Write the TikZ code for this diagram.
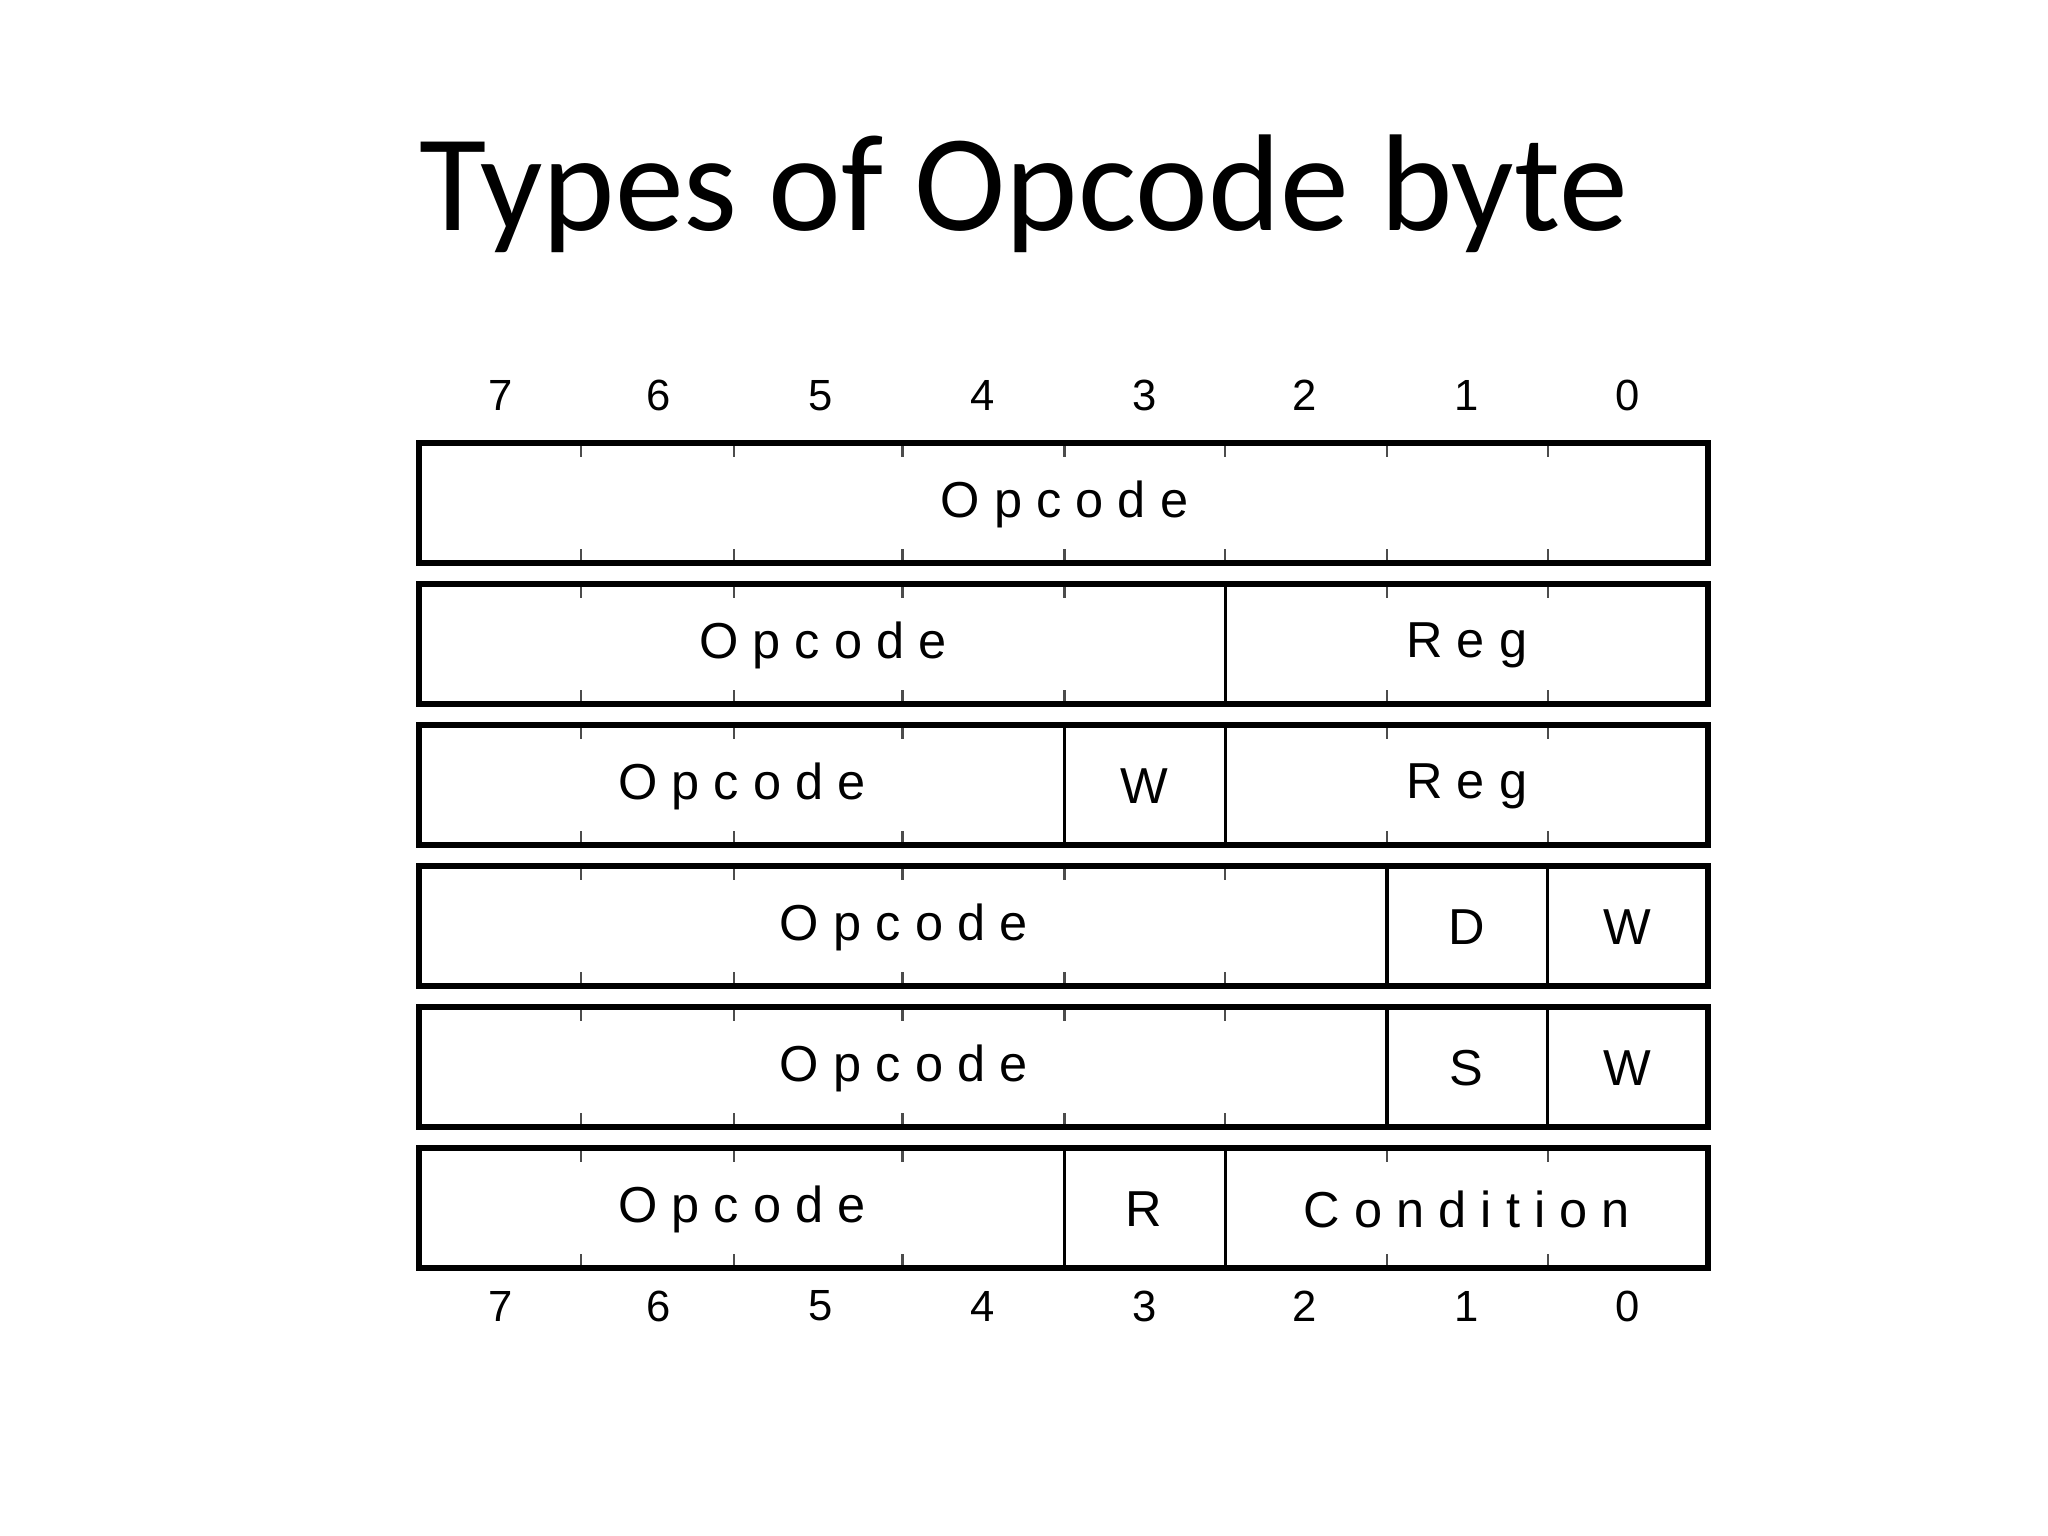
\documentclass[tikz,border=0pt]{standalone}
\usepackage{fontspec}
\setmainfont{Carlito}
\newfontfamily\boxfont[LetterSpace=28]{Liberation Sans}
\newfontfamily\bitfont{Liberation Sans}
\usepackage{tikz}

\tikzset{
  field/.style={font=\boxfont\fontsize{11}{13}\selectfont},
  bitnum/.style={font=\bitfont\fontsize{9.5}{11}\selectfont},
  frame/.style={line width=1.3pt},
  divider/.style={line width=0.7pt},
  tick/.style={line width=0.5pt, black!70}
}

\begin{document}
\begin{tikzpicture}[x=0.01cm, y=-0.01cm]
    \useasboundingbox (0,0) rectangle (1568,1176);
    % title
    \node[font=\fontsize{30}{36}\selectfont](title) at (784, 148){Types of Opcode byte};

    % bit numbers, top and bottom
    \foreach \bit/\x in {7/383, 6/504, 5/628, 4/752, 3/876, 2/999, 1/1123, 0/1246}{
      \node[bitnum](top\bit) at (\x, 303){\bit};
      \node[bitnum](bot\bit) at (\x, 1000){\bit};
    }

    % the six boxes
    \foreach \r/\yt in {1/339, 2/447, 3/555, 4/663, 5/771, 6/879}{
      \pgfmathsetmacro{\yb}{\yt+92}
      \foreach \x in {445, 562, 691, 815, 938, 1062, 1185}{
        \draw[tick] (\x, \yt) -- ++(0, 11);
        \draw[tick] (\x, \yb) -- ++(0, -11);
      }
      \draw[frame] (321, \yt) rectangle (1308, \yb);
    }

    % row 1
    \node[field](op1) at (815, 386){Opcode};
    % row 2
    \draw[divider] (938, 447) -- (938, 539);
    \node[field](op2) at (630, 494){Opcode};
    \node[field](reg2) at (1123, 494){Reg};
    % row 3
    \draw[divider] (815, 555) -- (815, 647);
    \draw[divider] (938, 555) -- (938, 647);
    \node[field](op3) at (568, 602){Opcode};
    \node[field](w3) at (876, 602){W};
    \node[field](reg3) at (1123, 602){Reg};
    % row 4
    \draw[divider] (1062, 663) -- (1062, 755);
    \draw[divider] (1185, 663) -- (1185, 755);
    \node[field](op4) at (692, 710){Opcode};
    \node[field](d4) at (1123, 710){D};
    \node[field](w4) at (1246, 710){W};
    % row 5
    \draw[divider] (1062, 771) -- (1062, 863);
    \draw[divider] (1185, 771) -- (1185, 863);
    \node[field](op5) at (692, 818){Opcode};
    \node[field](s5) at (1123, 818){S};
    \node[field](w5) at (1246, 818){W};
    % row 6
    \draw[divider] (815, 879) -- (815, 971);
    \draw[divider] (938, 879) -- (938, 971);
    \node[field](op6) at (568, 926){Opcode};
    \node[field](r6) at (876, 926){R};
    \node[field](cond6) at (1123, 926){Condition};
  \end{tikzpicture}
\end{document}
